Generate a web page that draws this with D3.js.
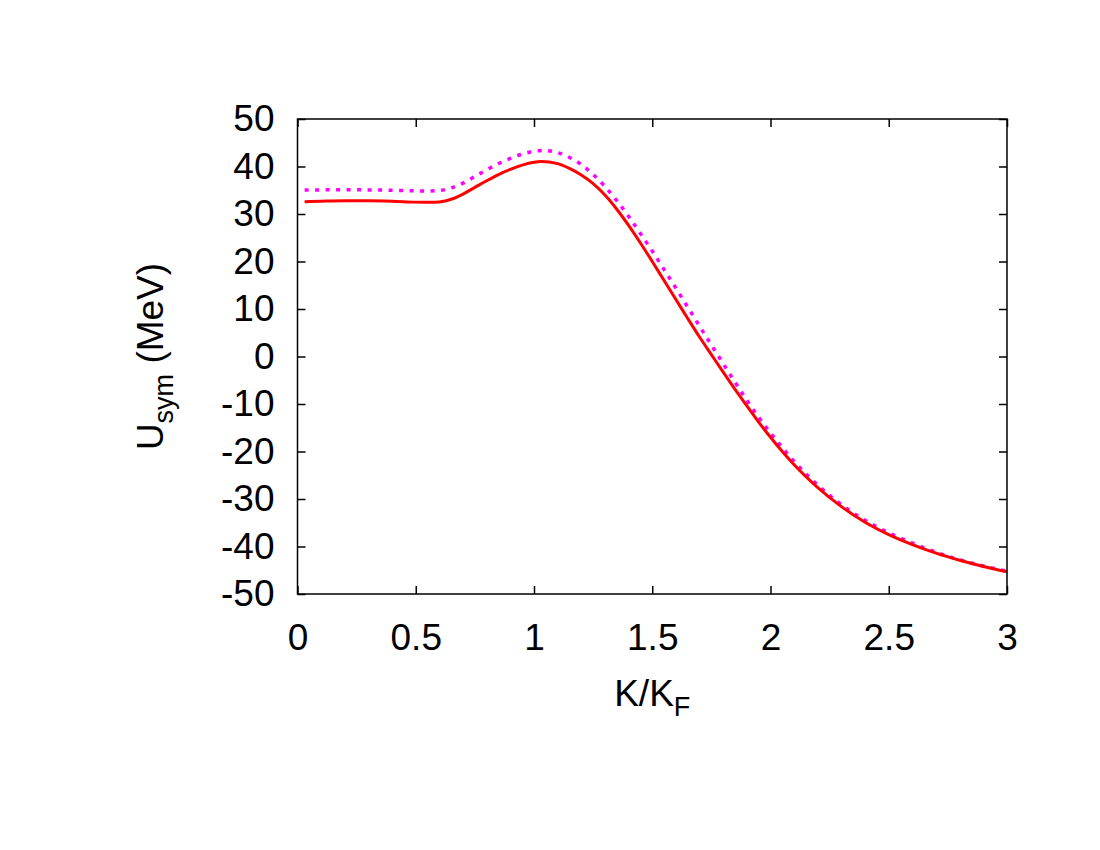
<!DOCTYPE html>
<html>
<head>
<meta charset="utf-8">
<script src="https://d3js.org/d3.v7.min.js"></script>
<style>
  body { margin: 0; background: #fff; }
  svg text { font-family: "Liberation Sans", Arial, sans-serif; fill: #000; }
</style>
</head>
<body>
<div id="chart"></div>
<script>
// values
var kRed = [0.03, 0.1, 0.2, 0.3, 0.4, 0.5, 0.56, 0.6, 0.65, 0.7, 0.75, 0.8, 0.85, 0.9, 0.95, 1.0, 1.03, 1.1, 1.15, 1.2, 1.25, 1.3, 1.35, 1.4, 1.45, 1.5, 1.55, 1.6, 1.65, 1.7, 1.75, 1.8, 1.85, 1.9, 1.95, 2.0, 2.05, 2.1, 2.2, 2.3, 2.4, 2.5, 2.6, 2.7, 2.8, 2.9, 3.0];
var uRed = [32.6, 32.7, 32.8, 32.8, 32.7, 32.5, 32.45, 32.55, 33.1, 34.2, 35.6, 37.0, 38.3, 39.4, 40.3, 40.9, 41.05, 40.6, 39.6, 38.2, 36.4, 34.0, 31.0, 27.6, 23.9, 20.0, 16.0, 12.0, 8.0, 4.1, 0.4, -3.3, -6.9, -10.4, -13.8, -17.0, -20.0, -22.8, -27.6, -31.6, -34.9, -37.5, -39.6, -41.4, -42.9, -44.2, -45.3];

var kMag = [0.03, 0.2, 0.4, 0.55, 0.6, 0.65, 0.7, 0.75, 0.8, 0.85, 0.9, 0.95, 1.0, 1.04, 1.1, 1.15, 1.2, 1.25, 1.3, 1.35, 1.4, 1.45, 1.5, 1.55, 1.6, 1.65, 1.7, 1.75, 1.8, 1.85, 1.9, 1.95, 2.0, 2.05, 2.1, 2.2, 2.3, 2.4, 2.5, 2.6, 2.7, 2.8, 2.9, 3.0];
var uMag = [35.05, 35.1, 35.0, 34.85, 34.95, 35.5, 36.5, 37.9, 39.3, 40.6, 41.7, 42.6, 43.2, 43.4, 42.9, 41.9, 40.4, 38.3, 35.8, 32.8, 29.5, 25.9, 22.2, 18.3, 14.4, 10.4, 6.4, 2.4, -1.5, -5.4, -9.2, -12.8, -16.1, -19.2, -22.1, -27.1, -31.2, -34.5, -37.1, -39.3, -41.2, -42.8, -44.1, -45.2];

var xTicks = [0, 0.5, 1, 1.5, 2, 2.5, 3];
var yTicks = [-50, -40, -30, -20, -10, 0, 10, 20, 30, 40, 50];

var width = 1100,
    height = 850;

var pLeft = 297.5, pRight = 1007, pTop = 119, pBottom = 594;

var svg = d3.select("#chart").append("svg")
    .attr("width", width)
    .attr("height", height);

var x = d3.scaleLinear().domain([0, 3]).range([pLeft, pRight]);
var y = d3.scaleLinear().domain([-50, 50]).range([pBottom, pTop]);

var tickLen = 8;

// plain hyphen for negatives, like the original
var plain = function(d) { return String(d); };

// axes: ticks drawn inward on all four sides (labels only bottom/left)
var xAxisBottom = d3.axisBottom(x).tickValues(xTicks).tickSize(-tickLen).tickPadding(30).tickFormat(plain);
var xAxisTop = d3.axisTop(x).tickValues(xTicks).tickSize(-tickLen).tickFormat("");
var yAxisLeft = d3.axisLeft(y).tickValues(yTicks).tickSize(-tickLen).tickPadding(23).tickFormat(plain);
var yAxisRight = d3.axisRight(y).tickValues(yTicks).tickSize(-tickLen).tickFormat("");

function styleAxis(g) {
    g.select(".domain").remove();
    g.selectAll(".tick line").attr("stroke", "#000").attr("stroke-width", 1.5);
    g.selectAll(".tick text").attr("font-size", 37).attr("font-family", "Liberation Sans, Arial, sans-serif");
}

svg.append("g").attr("transform", "translate(0," + pBottom + ")").call(xAxisBottom).call(styleAxis);
svg.append("g").attr("transform", "translate(0," + pTop + ")").call(xAxisTop).call(styleAxis);
svg.append("g").attr("transform", "translate(" + pLeft + ",0)").call(yAxisLeft).call(styleAxis);
svg.append("g").attr("transform", "translate(" + pRight + ",0)").call(yAxisRight).call(styleAxis);

// lines
var line = d3.line()
    .x(function(d) { return x(d[0]); })
    .y(function(d) { return y(d[1]); })
    .curve(d3.curveMonotoneX);

var magData = kMag.map(function(k, i) { return [k, uMag[i]]; });
var redData = kRed.map(function(k, i) { return [k, uRed[i]]; });

svg.append("path")
    .datum(magData)
    .attr("d", line)
    .attr("fill", "none")
    .attr("stroke", "#ff00ff")
    .attr("stroke-width", 3.5)
    .attr("stroke-dasharray", "4,6.5");

svg.append("path")
    .datum(redData)
    .attr("d", line)
    .attr("fill", "none")
    .attr("stroke", "#ff0000")
    .attr("stroke-width", 3);

// frame
svg.append("rect")
    .attr("x", pLeft)
    .attr("y", pTop)
    .attr("width", pRight - pLeft)
    .attr("height", pBottom - pTop)
    .attr("fill", "none")
    .attr("stroke", "#000")
    .attr("stroke-width", 1.5);

// axis titles
var xTitle = svg.append("text")
    .attr("x", (pLeft + pRight) / 2)
    .attr("y", 706)
    .attr("text-anchor", "middle")
    .attr("font-size", 37);
xTitle.append("tspan").text("K/K");
xTitle.append("tspan").attr("font-size", 27).attr("dy", 10).text("F");

var yTitle = svg.append("text")
    .attr("transform", "translate(163," + ((pTop + pBottom) / 2) + ") rotate(-90)")
    .attr("text-anchor", "middle")
    .attr("font-size", 37);
yTitle.append("tspan").text("U");
yTitle.append("tspan").attr("font-size", 27).attr("dy", 10).text("sym");
yTitle.append("tspan").attr("dy", -10).text(" (MeV)");
</script>
</body>
</html>
